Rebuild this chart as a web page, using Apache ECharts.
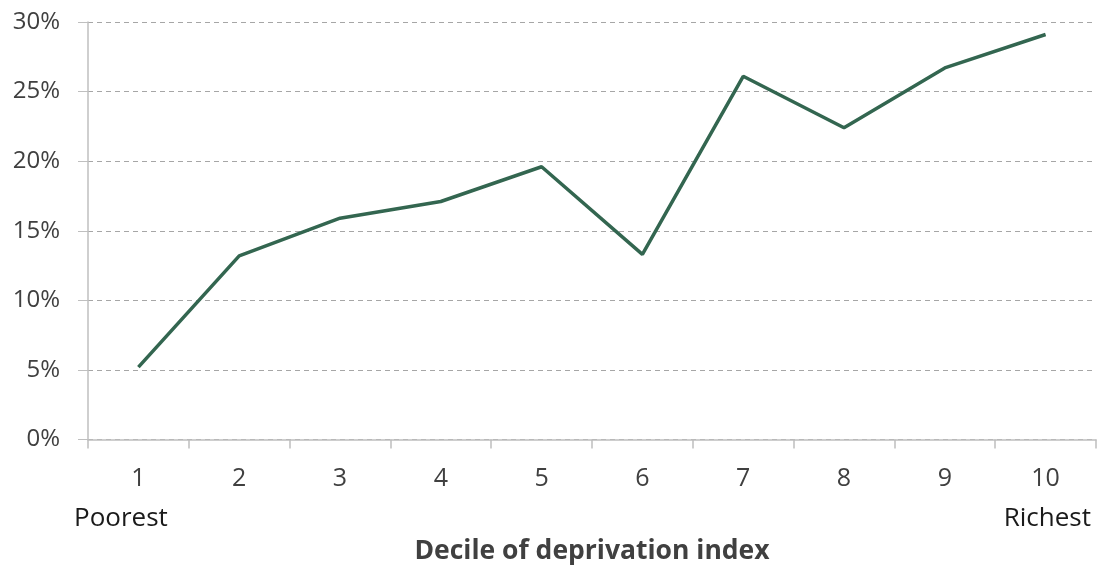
<!DOCTYPE html>
<html>
<head>
<meta charset="utf-8">
<script src="https://cdn.jsdelivr.net/npm/echarts@6/dist/echarts.min.js"></script>
<style>html,body{margin:0;padding:0;background:#fff}#c{width:1099px;height:570px}</style>
</head>
<body>
<div id="c"></div>
<script>
const categories = ['1','2','3','4','5','6','7','8','9','10'];
const values = [5.2, 13.2, 15.9, 17.1, 19.6, 13.3, 26.1, 22.4, 26.7, 29.1];
const yTicks = [0, 5, 10, 15, 20, 25, 30];
const axisTitle = 'Decile of deprivation index';
const endLabels = ['Poorest', 'Richest'];

const chart = echarts.init(document.getElementById('c'));
const font = '"Open Sans", "Noto Sans", sans-serif';
chart.setOption({
  animation: false,
  grid: {left: 88, right: 3, top: 22, bottom: 130},
  xAxis: {
    type: 'category',
    data: categories,
    boundaryGap: true,
    axisLine: {lineStyle: {color: '#bfbfbf', width: 1.5}},
    axisTick: {show: true, length: 9, lineStyle: {color: '#bfbfbf', width: 1.5}},
    axisLabel: {color: '#404040', fontSize: 25, fontFamily: font, margin: 27},
    name: axisTitle,
    nameLocation: 'middle',
    nameGap: 112,
    nameTextStyle: {color: '#404040', fontSize: 26.5, fontWeight: 'bold', fontFamily: font, verticalAlign: 'middle'}
  },
  yAxis: {
    type: 'value',
    min: yTicks[0],
    max: yTicks[yTicks.length - 1],
    interval: 5,
    axisLine: {show: true, lineStyle: {color: '#bfbfbf', width: 1.5}},
    axisTick: {show: true, length: 10, lineStyle: {color: '#bfbfbf', width: 1}},
    axisLabel: {color: '#404040', fontSize: 24, fontFamily: font, margin: 28, formatter: v => v + '%'},
    splitLine: {show: true, lineStyle: {color: '#a6a6a6', type: [5, 4], width: 1}}
  },
  series: [{
    type: 'line',
    data: values,
    symbol: 'none',
    lineStyle: {color: '#336650', width: 3.5},
    itemStyle: {color: '#336650'}
  }],
  graphic: [
    {type: 'text', left: 74, top: 506, style: {text: endLabels[0], fill: '#1a1a1a', font: '26px ' + font}},
    {type: 'text', right: 8, top: 506, style: {text: endLabels[1], fill: '#1a1a1a', font: '26px ' + font}}
  ]
});
</script>
</body>
</html>
